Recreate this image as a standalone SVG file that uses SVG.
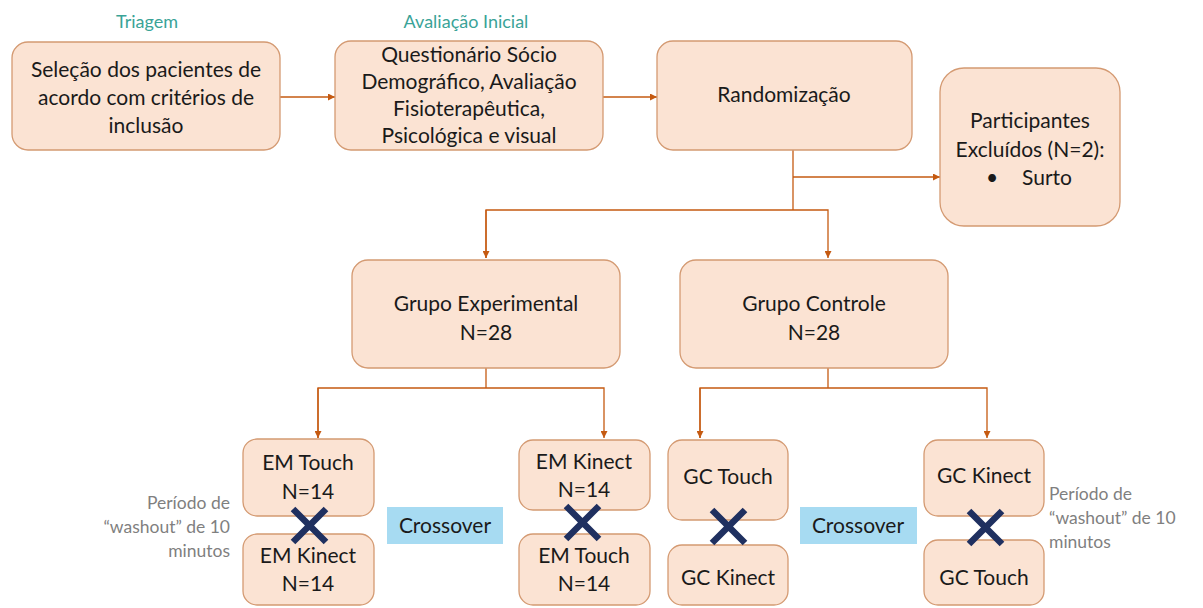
<svg xmlns="http://www.w3.org/2000/svg" width="1203" height="608" viewBox="0 0 1203 608">
<style>
.n{fill:#fbe3d3;stroke:#d49a72;stroke-width:1.3}
.t{font-family:Lato,"Liberation Sans",sans-serif;font-size:21px;fill:#1a1a1a;text-anchor:middle}
.h{font-family:Lato,"Liberation Sans",sans-serif;font-size:18px;fill:#3aa397;text-anchor:middle}
.g{font-family:Lato,"Liberation Sans",sans-serif;font-size:17.5px;fill:#7f7f7f}
.c{fill:none;stroke:#c55a11;stroke-width:1.3}
.x{stroke:#1f3060;stroke-width:6.5;stroke-linecap:butt}
.cb{fill:#a7dbf2}
</style>
<defs>
<marker id="a" viewBox="0 0 10 10" refX="10" refY="5" markerWidth="7" markerHeight="7" orient="auto" markerUnits="userSpaceOnUse">
<path d="M0,0L10,5L0,10z" fill="#c55a11"/>
</marker>
</defs>
<text class="h" x="147" y="28">Triagem</text>
<text class="h" x="466" y="28">Avaliação Inicial</text>
<g id="connectors">
<path class="c" d="M280,97H335" marker-end="url(#a)"/>
<path class="c" d="M603,97H657" marker-end="url(#a)"/>
<path class="c" d="M793,150V210"/>
<path class="c" d="M793,177H940" marker-end="url(#a)"/>
<path class="c" d="M486,258V210H828V258" marker-end="url(#a)"/>
<path class="c" d="M486,210V258" marker-end="url(#a)"/>
<path class="c" d="M486,368V388"/>
<path class="c" d="M318,438V388H604V438" marker-end="url(#a)"/>
<path class="c" d="M318,388V438" marker-end="url(#a)"/>
<path class="c" d="M828,368V388"/>
<path class="c" d="M700,438V388H987V438" marker-end="url(#a)"/>
<path class="c" d="M700,388V438" marker-end="url(#a)"/>
</g>
<g id="n1"><rect class="n" x="12" y="42" width="268" height="108" rx="16"/>
<text class="t" x="146" y="77">Seleção dos pacientes de</text>
<text class="t" x="146" y="105">acordo com critérios de</text>
<text class="t" x="146" y="133">inclusão</text></g>
<g id="n2"><rect class="n" x="335" y="41" width="268" height="109" rx="16"/>
<text class="t" x="469" y="62">Questionário Sócio</text>
<text class="t" x="469" y="89">Demográfico, Avaliação</text>
<text class="t" x="469" y="116">Fisioterapêutica,</text>
<text class="t" x="469" y="143">Psicológica e visual</text></g>
<g id="n3"><rect class="n" x="657" y="41" width="255" height="109" rx="16"/>
<text class="t" x="784" y="102">Randomização</text></g>
<g id="n4"><rect class="n" x="940" y="68" width="180" height="158" rx="24"/>
<text class="t" x="1030" y="128">Participantes</text>
<text class="t" x="1030" y="157">Excluídos (N=2):</text>
<text class="t" x="992" y="185">•</text>
<text class="t" x="1047" y="185">Surto</text></g>
<g id="n5"><rect class="n" x="352" y="260" width="268" height="108" rx="16"/>
<text class="t" x="486" y="311">Grupo Experimental</text>
<text class="t" x="486" y="340">N=28</text></g>
<g id="n6"><rect class="n" x="680" y="260" width="268" height="108" rx="16"/>
<text class="t" x="814" y="311">Grupo Controle</text>
<text class="t" x="814" y="340">N=28</text></g>
<g id="n7"><rect class="n" x="243" y="439" width="131" height="77" rx="14"/>
<text class="t" x="308" y="470">EM Touch</text>
<text class="t" x="308" y="499">N=14</text></g>
<g id="n8"><rect class="n" x="243" y="534" width="131" height="71" rx="14"/>
<text class="t" x="308" y="563">EM Kinect</text>
<text class="t" x="308" y="591">N=14</text></g>
<g id="n9"><rect class="n" x="519" y="440" width="131" height="70" rx="14"/>
<text class="t" x="584" y="469">EM Kinect</text>
<text class="t" x="584" y="497">N=14</text></g>
<g id="n10"><rect class="n" x="519" y="534" width="131" height="71" rx="14"/>
<text class="t" x="584" y="563">EM Touch</text>
<text class="t" x="584" y="591">N=14</text></g>
<g id="n11"><rect class="n" x="668" y="440" width="120" height="80" rx="14"/>
<text class="t" x="728" y="484">GC Touch</text></g>
<g id="n12"><rect class="n" x="668" y="545" width="120" height="60" rx="14"/>
<text class="t" x="728" y="585">GC Kinect</text></g>
<g id="n13"><rect class="n" x="924" y="440" width="120" height="76" rx="14"/>
<text class="t" x="984" y="483">GC Kinect</text></g>
<g id="n14"><rect class="n" x="924" y="540" width="120" height="65" rx="14"/>
<text class="t" x="984" y="585">GC Touch</text></g>
<g id="cross1"><rect class="cb" x="387" y="507" width="116" height="37"/>
<text class="t" x="445" y="533">Crossover</text></g>
<g id="cross2"><rect class="cb" x="800" y="507" width="117" height="37"/>
<text class="t" x="858" y="533">Crossover</text></g>
<g id="marks">
<path class="x" d="M293,509L326,542M326,509L293,542"/>
<path class="x" d="M566,506L599,539M599,506L566,539"/>
<path class="x" d="M712,510L745,543M745,510L712,543"/>
<path class="x" d="M969,511L1002,544M1002,511L969,544"/>
</g>
<g id="note1" class="g" style="text-anchor:end">
<text x="230" y="509">Período de</text>
<text x="230" y="533">“washout” de 10</text>
<text x="230" y="557">minutos</text></g>
<g id="note2" class="g">
<text x="1049" y="500">Período de</text>
<text x="1049" y="524">“washout” de 10</text>
<text x="1049" y="548">minutos</text></g>
</svg>
